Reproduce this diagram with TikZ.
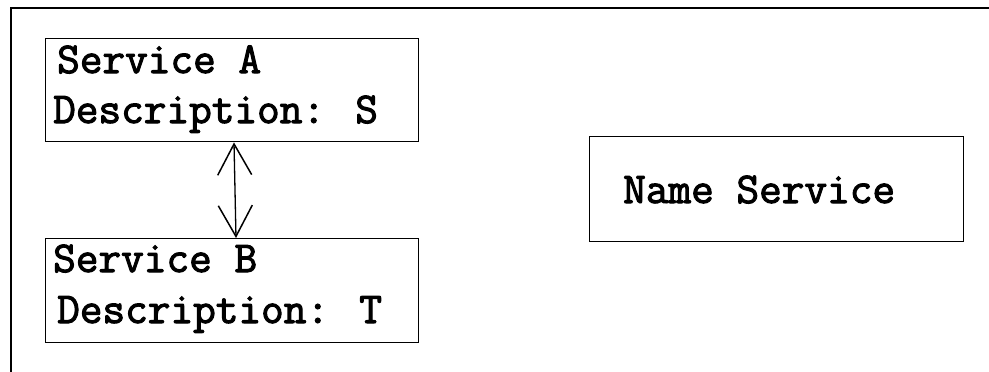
\documentclass[tikz,border=0pt]{standalone}
\usepackage{fontspec}
\newfontfamily\courfont{Latin Modern Mono}[FakeBold=2.4]
\usetikzlibrary{arrows.meta}
\begin{document}
\begin{tikzpicture}[x=1pt,y=-1pt,
  box/.style={draw,line width=1.4pt,rectangle,anchor=north west,inner sep=0pt},
  txt/.style={anchor=base west,inner sep=0pt,font=\fontsize{44}{46}\selectfont\courfont},
  link/.style={line width=1.3pt,{Straight Barb[length=31pt,width=34pt,line width=1.5pt]}-{Straight Barb[length=31pt,width=34pt,line width=1.5pt]}}]
\useasboundingbox (0,0) rectangle (989,372);
\draw[line width=1.4pt] (11,372) -- (11,8) -- (989,8);
\node[box,minimum width=373pt,minimum height=103pt] (A) at (45,38) {};
\node[box,minimum width=373pt,minimum height=104pt] (B) at (45,238) {};
\node[box,minimum width=374pt,minimum height=105pt] (N) at (589,136) {};
\node[txt] (a1) at (57,73) {Service A};
\node[txt] (a2) at (53,123) {Description: S};
\node[txt] (b1) at (53,272) {Service B};
\node[txt] (b2) at (57,323) {Description: T};
\node[txt] (n1) at (623,203) {Name Service};
\draw[link] ([xshift=189pt]A.south west) -- ([xshift=191pt]B.north west);
\end{tikzpicture}
\end{document}
